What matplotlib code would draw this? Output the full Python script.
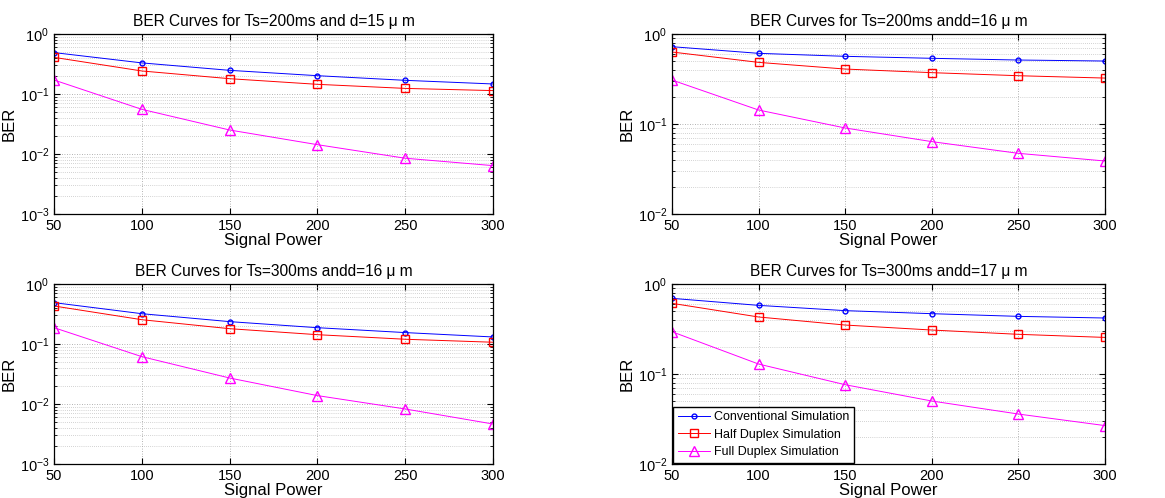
import numpy as np
import matplotlib
matplotlib.use("Agg")
from matplotlib import pyplot as plt
from matplotlib.ticker import LogLocator, NullFormatter

plt.rcParams['font.family'] = ['Liberation Sans', 'DejaVu Sans']

signal_power = [50, 100, 150, 200, 250, 300]

# top left: Ts=200ms, d=15um
conv_a = [0.49, 0.33, 0.248, 0.202, 0.169, 0.147]
half_a = [0.408, 0.242, 0.18, 0.145, 0.124, 0.114]
full_a = [0.171, 0.0555, 0.0251, 0.0143, 0.0085, 0.0064]

# top right: Ts=200ms, d=16um
conv_b = [0.723, 0.61, 0.565, 0.537, 0.514, 0.501]
half_b = [0.631, 0.484, 0.408, 0.372, 0.344, 0.324]
full_b = [0.308, 0.143, 0.0903, 0.0637, 0.0472, 0.0388]

# bottom left: Ts=300ms, d=16um
conv_c = [0.489, 0.32, 0.236, 0.187, 0.155, 0.131]
half_c = [0.43, 0.254, 0.18, 0.143, 0.12, 0.107]
full_c = [0.187, 0.0615, 0.0271, 0.0138, 0.00826, 0.00464]

# bottom right: Ts=300ms, d=17um
conv_d = [0.693, 0.579, 0.506, 0.468, 0.437, 0.419]
half_d = [0.61, 0.43, 0.35, 0.308, 0.276, 0.255]
full_d = [0.295, 0.129, 0.076, 0.0501, 0.0359, 0.0267]

titles = ["BER Curves for Ts=200ms and d=15 \u03bc m",
          "BER Curves for Ts=200ms andd=16 \u03bc m",
          "BER Curves for Ts=300ms andd=16 \u03bc m",
          "BER Curves for Ts=300ms andd=17 \u03bc m"]
ylims = [(1e-3, 1), (1e-2, 1), (1e-3, 1), (1e-2, 1)]
labels = ["Conventional Simulation", "Half Duplex Simulation", "Full Duplex Simulation"]

fig = plt.figure(figsize=(11.65, 4.98), dpi=100)
positions = [[0.0464, 0.5703, 0.3768, 0.3614],
             [0.5768, 0.5703, 0.3717, 0.3614],
             [0.0464, 0.0683, 0.3768, 0.3614],
             [0.5768, 0.0683, 0.3717, 0.3614]]
series = [(conv_a, half_a, full_a), (conv_b, half_b, full_b),
          (conv_c, half_c, full_c), (conv_d, half_d, full_d)]

for i in range(4):
    ax = fig.add_axes(positions[i])
    conv, half, full = series[i]
    ax.semilogy(signal_power, conv, color='blue', marker='o', markersize=3.5,
                markerfacecolor='none', linewidth=0.7, label=labels[0])
    ax.semilogy(signal_power, half, color='red', marker='s', markersize=5.5,
                markerfacecolor='none', linewidth=0.7, label=labels[1])
    ax.semilogy(signal_power, full, color='magenta', marker='^', markersize=6.5,
                markerfacecolor='none', linewidth=0.7, label=labels[2])
    ax.set_xlim(50, 300)
    ax.set_ylim(*ylims[i])
    ax.set_xticks(signal_power)
    ax.yaxis.set_minor_locator(LogLocator(base=10, subs=np.arange(2, 10)))
    ax.yaxis.set_minor_formatter(NullFormatter())
    ax.grid(True, which='major', linestyle=(0, (1, 2)), color='#999999', linewidth=0.6)
    ax.grid(True, which='minor', axis='y', linestyle=(0, (1, 2)), color='#aaaaaa', linewidth=0.5)
    ax.tick_params(which='both', direction='in', top=True, right=True, labelsize=10.5)
    ax.tick_params(which='major', length=4)
    ax.tick_params(which='minor', length=2)
    for s in ax.spines.values():
        s.set_linewidth(0.9)
    ax.set_title(titles[i], fontsize=11.2, pad=6)
    ax.set_xlabel("Signal Power", fontsize=12, labelpad=0)
    ax.set_ylabel("BER", fontsize=12, labelpad=2)
    if i == 3:
        leg = ax.legend(loc='lower left', fontsize=9, fancybox=False, framealpha=1,
                        edgecolor='black', borderaxespad=0.1, handlelength=2.6,
                        labelspacing=0.45, borderpad=0.35, handletextpad=0.3)
        leg.get_frame().set_linewidth(1.0)

plt.savefig("out.png", dpi=100)
